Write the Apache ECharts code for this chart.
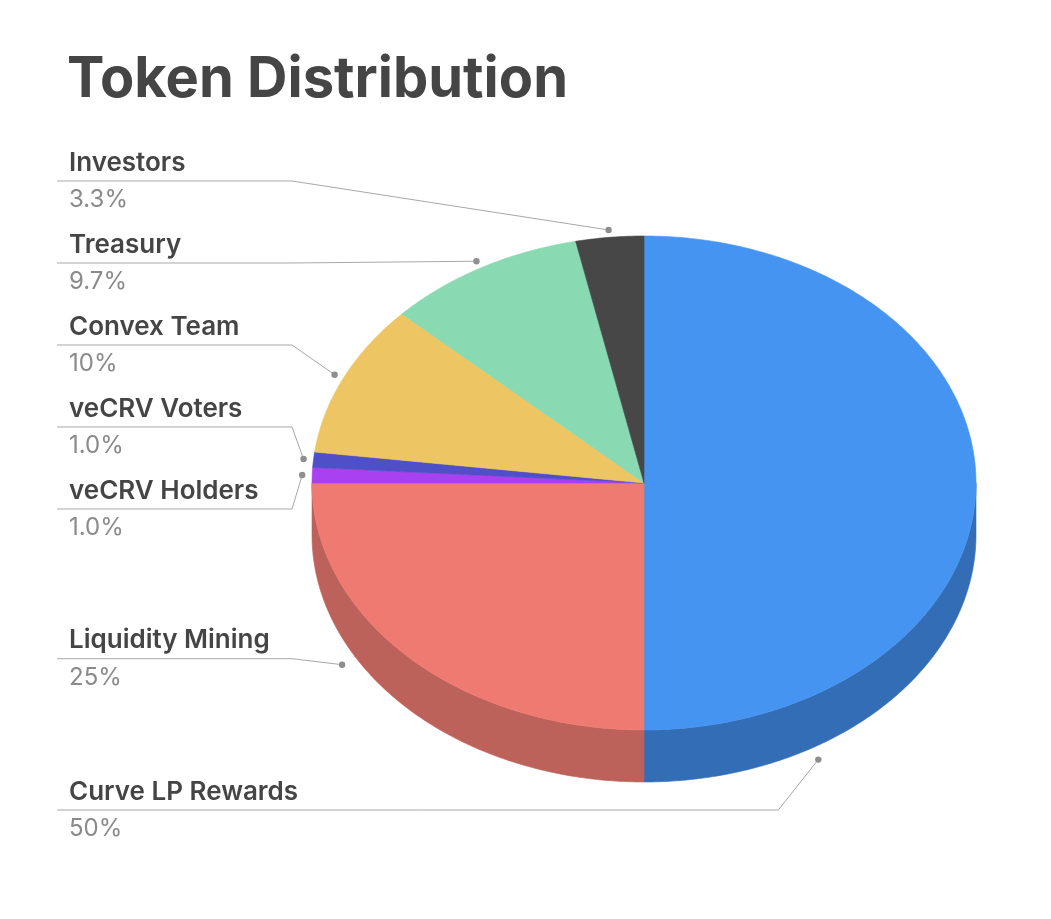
<!DOCTYPE html>
<html><head><meta charset="utf-8">
<script src="https://cdn.jsdelivr.net/npm/echarts@6/dist/echarts.min.js"></script>
<style>html,body{margin:0;padding:0;background:#fff}#c{width:1051px;height:919px}</style>
</head><body><div id="c"></div>
<script>
const categories = ['Curve LP Rewards','Liquidity Mining','veCRV Holders','veCRV Voters','Convex Team','Treasury','Investors'];
const values = [50, 25, 1.0, 1.0, 10, 9.7, 3.3];
const valueLabels = ['50%','25%','1.0%','1.0%','10%','9.7%','3.3%'];
const colors = ['#4694f2','#ef7a72','#a941f0','#4f4fc7','#edc562','#89d9b3','#474747'];
const sideColors = ['#326db5','#bd625b','#7a2fb0','#3a3a90','#b89848','#64a083','#333333'];

const CX=644, CY=483, RX=332, RY=247, DEPTH=52;
const FONT='Inter, "Noto Sans", sans-serif';
const total = values.reduce((a,b)=>a+b,0);
const slices=[]; let acc=0;
values.forEach(v=>{const a0=acc/total*360; acc+=v; slices.push({a0, a1:acc/total*360});});
function pt(deg,k,dy){const r=deg*Math.PI/180; return [CX+RX*k*Math.sin(r), CY+dy-RY*k*Math.cos(r)];}
function arc(a0,a1,k,dy){const n=Math.max(2,Math.ceil((a1-a0)/0.5)); const p=[]; for(let j=0;j<=n;j++) p.push(pt(a0+(a1-a0)*j/n,k,dy)); return p;}

// anchors
const front = slices.map(s=>{const mid=(s.a0+s.a1)/2; return mid>=90 && mid<=270;});
const anchors = slices.map((s,i)=>{
  if(front[i]){
    const v0=Math.max(s.a0,90), v1=Math.min(s.a1,270);
    return pt((v0+v1)/2+15,1.05,DEPTH);
  }
  return pt((s.a0+s.a1)/2,1.03,0);
});
// label layout (left side, relaxation)
const GAP=82;
const order = anchors.map((a,i)=>i).sort((p,q)=>anchors[p][1]-anchors[q][1]);
const target = anchors.map((a,i)=>{let t=a[1]-(front[i]?6:15); if(a[0]>CX) t=Math.max(t, CY+RY+DEPTH+28); return t;});
let clusters = order.map(i=>({items:[i]}));
function place(c){const m=c.items.reduce((s,i)=>s+target[i],0)/c.items.length; c.start=m-(c.items.length-1)/2*GAP;}
clusters.forEach(place);
let changed=true;
while(changed){changed=false;
  for(let k=1;k<clusters.length;k++){
    const p=clusters[k-1], c=clusters[k];
    if(p.start+(p.items.length-1)*GAP+GAP > c.start){p.items=p.items.concat(c.items); place(p); clusters.splice(k,1); changed=true; break;}
  }
}
const labelY=[]; clusters.forEach(c=>c.items.forEach((i,j)=>labelY[i]=c.start+j*GAP));

const chart = echarts.init(document.getElementById('c'));
chart.setOption({
  backgroundColor:'#fff',
  animation:false,
  title:{text:'Token Distribution', left:67, top:52, padding:0,
    textStyle:{fontFamily:FONT, fontSize:56, fontWeight:'bold', color:'#454545'}},
  series:[{
    type:'custom', coordinateSystem:'none',
    data: categories.map((c,i)=>({name:c, value:values[i]})),
    renderItem:(params, api)=>{
      const i=params.dataIndex, s=slices[i];
      const children=[];
      const top=[[CX,CY]].concat(arc(s.a0,s.a1,1,0));
      children.push({type:'polygon', z2:2, shape:{points:top}, style:{fill:colors[i], stroke:colors[i], lineWidth:0.6}});
      const v0=Math.max(s.a0,90), v1=Math.min(s.a1,270);
      if(v1>v0){
        const side=arc(v0,v1,1,0).concat(arc(v0,v1,1,DEPTH).reverse());
        children.push({type:'polygon', z2:1, shape:{points:side}, style:{fill:sideColors[i], stroke:sideColors[i], lineWidth:0.6}});
      }
      const a=anchors[i], ly=labelY[i];
      const ex = a[0]<CX ? Math.min(292,a[0]) : a[0]-40;
      children.push({type:'polyline', z2:5, shape:{points:[[57,ly],[ex,ly],[a[0],a[1]]]}, style:{stroke:'#a8a8a8', lineWidth:1, fill:null}});
      children.push({type:'circle', z2:6, shape:{cx:a[0], cy:a[1], r:3.2}, style:{fill:'#8e8e8e'}});
      children.push({type:'text', z2:7, x:69, y:ly-18, style:{text:categories[i], fontFamily:FONT, fontSize:26, fontWeight:600, fill:'#454545', verticalAlign:'middle', align:'left'}});
      children.push({type:'text', z2:7, x:69, y:ly+19, style:{text:valueLabels[i], fontFamily:FONT, fontSize:24, fontWeight:400, fill:'#8a8a8a', verticalAlign:'middle', align:'left'}});
      return {type:'group', children};
    }
  }]
});
</script></body></html>
